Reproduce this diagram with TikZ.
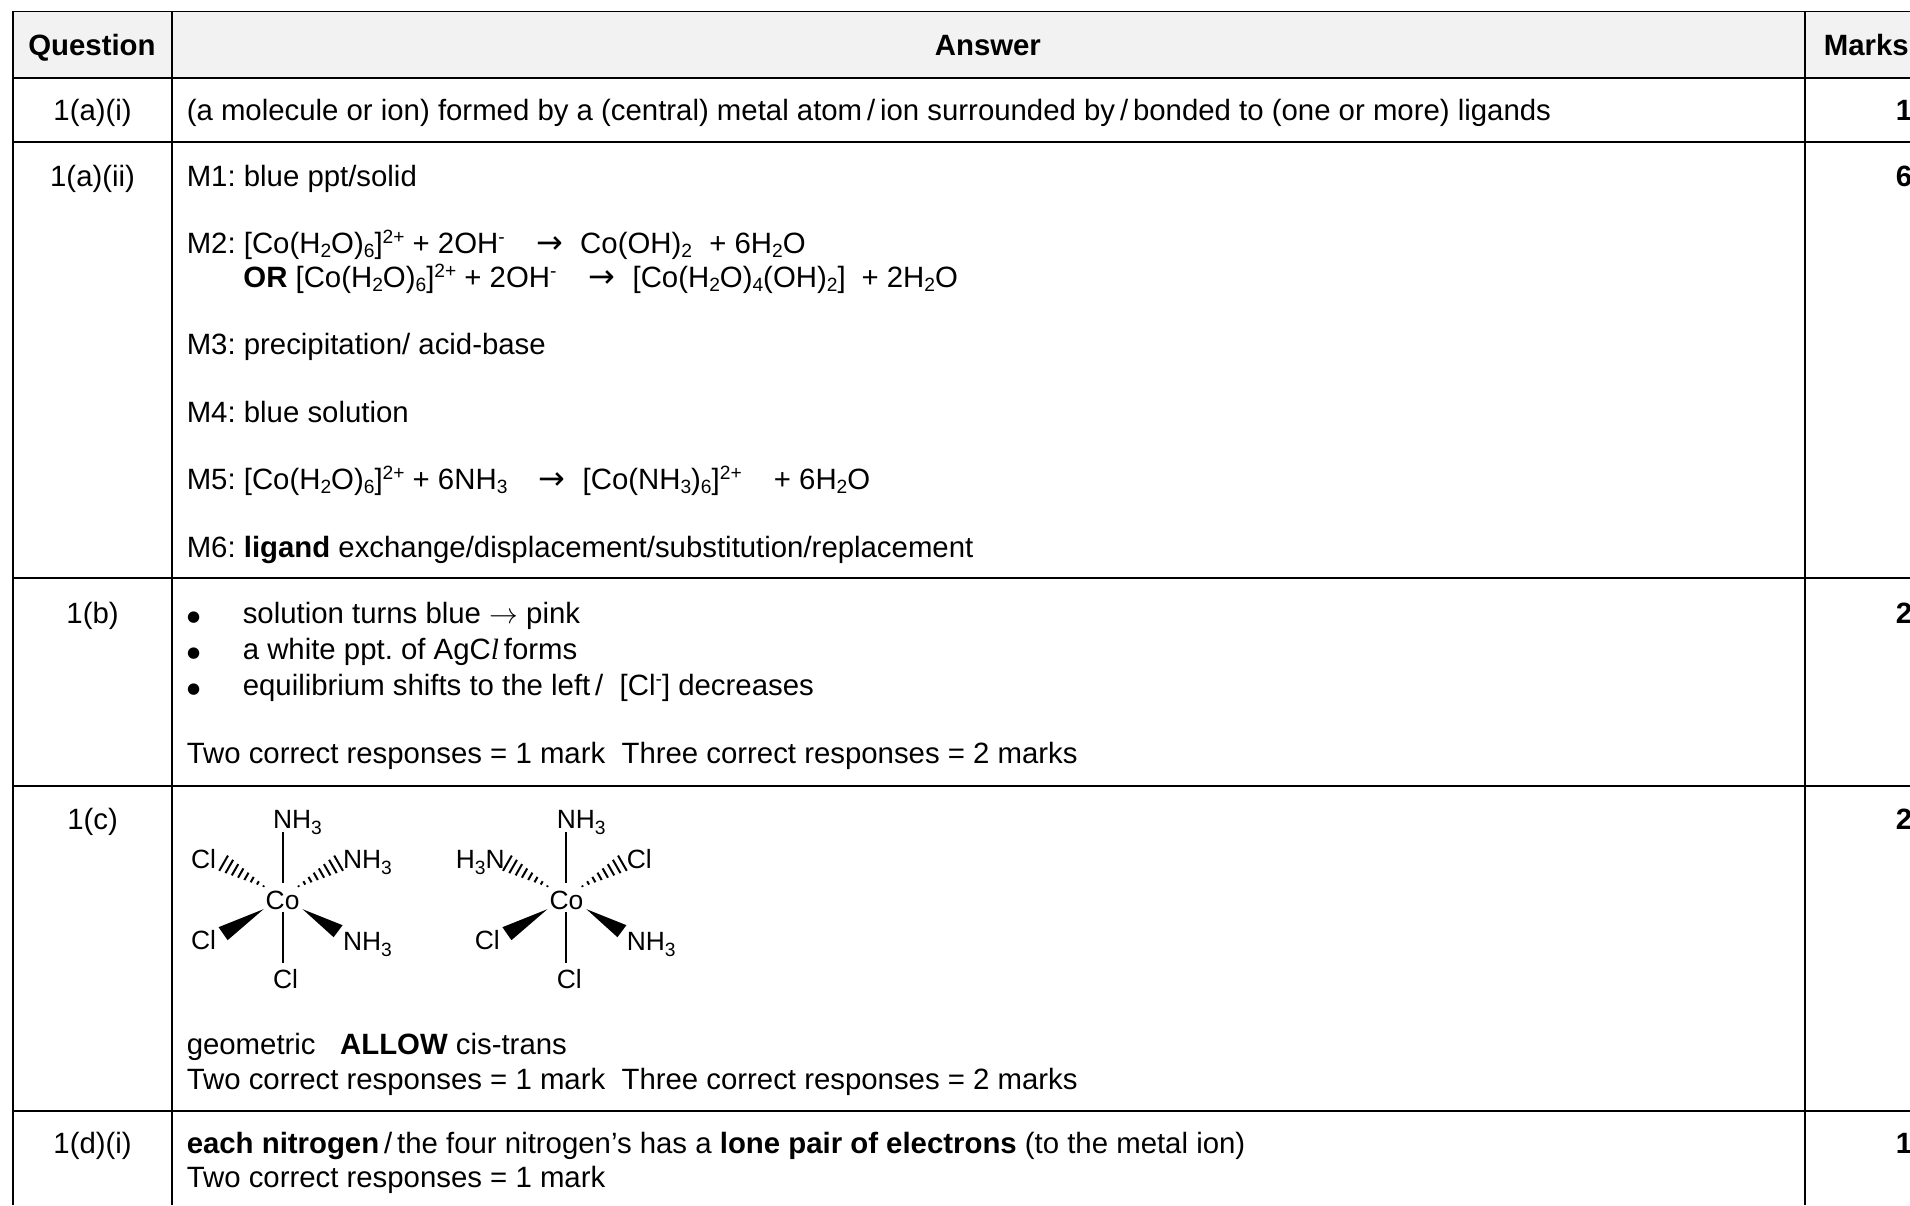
\documentclass[tikz,border=0pt]{standalone}
\usepackage{fontspec}
\setmainfont{Liberation Sans}
\newfontfamily\serifit{Liberation Serif}
\newfontfamily\arrowfont{DejaVu Sans}
\frenchspacing
\newcommand\sbx[1]{\raisebox{-0.13em}{\fontsize{9.6}{10}\selectfont #1}}
\newcommand\spx[1]{\raisebox{0.34em}{\fontsize{9.6}{10}\selectfont #1}}
\newcommand\sbs[1]{\raisebox{-0.22em}{\fontsize{9.6}{10}\selectfont #1}}
\newcommand\Tx[4]{\node[txt] (#1) at (#2,#3) {#4};}
\newcommand\Tc[4]{\node[txtc] (#1) at (#2,#3) {#4};}
\newcommand\Ar[3]{\node[arr] (#1) at (#2,#3) {→};}
\newcommand\Bu[3]{\node[bul] (#1) at (#2,#3) {●};}
\newcommand\hashbond[4]{%
  \foreach \t in {0,...,7}{%
    \pgfmathsetmacro\px{#1+\t/7*(#3-#1)}%
    \pgfmathsetmacro\py{#2+\t/7*(#4-#2)}%
    \pgfmathsetmacro\len{veclen(#3-#1,#4-#2)}%
    \pgfmathsetmacro\nx{-(#4-#2)/\len}%
    \pgfmathsetmacro\ny{(#3-#1)/\len}%
    \pgfmathsetmacro\hw{0.8+\t/7*8}%
    \draw[bond] (\px+\hw*\nx,\py+\hw*\ny) -- (\px-\hw*\nx,\py-\hw*\ny);
  }}
\newcommand\bondset{%
  \draw[bond] (0,-68) -- (0,-17);
  \draw[bond] (0,12) -- (0,63);
  \hashbond{-19}{-14}{-59}{-37}
  \hashbond{16}{-14}{56}{-37}
  \fill (-19,9) -- (-64,27) -- (-55,40) -- cycle;
  \fill (20,9) -- (60,25) -- (51,37) -- cycle;
}
\tikzset{
  txt/.style={anchor=base west,inner sep=0pt,font=\fontsize{14.68}{17}\selectfont},
  txtc/.style={anchor=base,inner sep=0pt,font=\fontsize{14.68}{17}\selectfont},
  arr/.style={anchor=base west,inner sep=0pt,font=\arrowfont\fontsize{16}{17}\selectfont},
  bul/.style={anchor=base,inner sep=0pt,font=\arrowfont\fontsize{7.5}{8}\selectfont},
  chem/.style={anchor=base west,inner sep=0pt,font=\fontsize{13.2}{15}\selectfont},
  rule/.style={line width=1.1pt,black},
  bond/.style={line width=1pt,black}
}
\begin{document}
\begin{tikzpicture}[x=0.60906pt,y=-0.60906pt]
\useasboundingbox (0,0) rectangle (1568,989.34);
\fill[white] (0,0) rectangle (1568,989.34);
\fill[black!5] (10.5,9.3) rectangle (1568,64);
% rules
\coordinate (tl) at (10.5,9.3); \coordinate (tr) at (1568,9.3);
\draw[line width=0.8pt] (tl) -- (tr);
\foreach \yy in {64.03,116.57,474.5,645.3,912.1}{\draw[rule] (10.5,\yy) -- (1568,\yy);}
\foreach \xx in {10.5,141.2,1482}{\draw[rule] (\xx,9.3) -- (\xx,989.34);}
% header
\Tc{hq}{75.5}{45.5}{\textbf{Question}}
\Tc{ha}{811}{45.5}{\textbf{Answer}}
\Tx{hm}{1497}{45.5}{\textbf{Marks}}
% question labels
\Tc{q1}{76}{99}{1(a)(i)}
\Tc{q2}{76}{153}{1(a)(ii)}
\Tc{q3}{76}{512}{1(b)}
\Tc{q4}{76}{681}{1(c)}
\Tc{q5}{76}{947}{1(d)(i)}
% marks
\Tx{m1}{1556}{99}{\textbf{1}}
\Tx{m2}{1556}{153}{\textbf{6}}
\Tx{m3}{1556}{512}{\textbf{2}}
\Tx{m4}{1556}{681}{\textbf{2}}
\Tx{m5}{1556}{947}{\textbf{1}}
% answers
\Tx{a1}{153}{99}{(a molecule or ion) formed by a (central) metal atom\,/\,ion surrounded by\,/\,bonded to (one or more) ligands}
\Tx{a2}{153}{153}{M1: blue ppt/solid}
\Tx{a3}{153}{208}{M2: [Co(H\sbx{2}O)\sbx{6}]\spx{2+} + 2OH\spx{-}}
\Ar{a3b}{440}{208}{}
\Tx{a3c}{476}{208}{Co(OH)\sbx{2}}
\Tx{a3d}{582}{208}{+ 6H\sbx{2}O}
\Tx{a4}{199.5}{236}{\textbf{OR} [Co(H\sbx{2}O)\sbx{6}]\spx{2+} + 2OH\spx{-}}
\Ar{a4b}{483}{236}{}
\Tx{a4c}{519}{236}{[Co(H\sbx{2}O)\sbx{4}(OH)\sbx{2}]}
\Tx{a4d}{707}{236}{+ 2H\sbx{2}O}
\Tx{a5}{153}{291}{M3: precipitation/ acid-base}
\Tx{a6}{153}{347}{M4: blue solution}
\Tx{a7}{153}{402}{M5: [Co(H\sbx{2}O)\sbx{6}]\spx{2+} + 6NH\sbx{3}}
\Ar{a7b}{442}{402}{}
\Tx{a7c}{478}{402}{[Co(NH\sbx{3})\sbx{6}]\spx{2+}}
\Tx{a7d}{635}{402}{+ 6H\sbx{2}O}
\Tx{a8}{153}{458}{M6: \textbf{ligand} exchange/displacement/substitution/replacement}
\Bu{b1d}{159}{510}{}
\Bu{b2d}{159}{539.5}{}
\Bu{b3d}{159}{569}{}
\Tx{b1}{199}{512}{solution turns blue $\rightarrow$ pink}
\Tx{b2}{199}{541.5}{a white ppt. of AgC{\serifit\itshape l}\,forms}
\Tx{b3}{199}{571}{equilibrium shifts to the left\,/\ \ [Cl\spx{-}] decreases}
\Tx{b4}{153}{627}{Two correct responses = 1 mark\ \ Three correct responses = 2 marks}
\Tx{c1}{153}{866}{geometric\ \ \ \textbf{ALLOW} cis-trans}
\Tx{c2}{153}{894}{Two correct responses = 1 mark\ \ Three correct responses = 2 marks}
\Tx{d1}{153}{947}{\textbf{each nitrogen}\,/\,the four nitrogen’s has a \textbf{lone pair of electrons} (to the metal ion)}
\Tx{d2}{153}{975}{Two correct responses = 1 mark}
% structures
\begin{scope}[shift={(232,739)},x=0.5pt,y=-0.5pt]
  \bondset
  \node[chem] (sa0) at (0,0) [anchor=center] {Co};
  \node[chem] (sa1) at (-10,-72) {NH\sbs{3}};
  \node[chem] (sa2) at (-92,-32) {Cl};
  \node[chem] (sa3) at (60,-32) {NH\sbs{3}};
  \node[chem] (sa4) at (-92,49) {Cl};
  \node[chem] (sa5) at (60,50) {NH\sbs{3}};
  \node[chem] (sa6) at (-10,88) {Cl};
\end{scope}
\begin{scope}[shift={(465,739)},x=0.5pt,y=-0.5pt]
  \bondset
  \node[chem] (sb0) at (0,0) [anchor=center] {Co};
  \node[chem] (sb1) at (-10,-72) {NH\sbs{3}};
  \node[chem] (sb2) at (-111,-32) {H\sbs{3}N};
  \node[chem] (sb3) at (60,-32) {Cl};
  \node[chem] (sb4) at (-92,49) {Cl};
  \node[chem] (sb5) at (60,50) {NH\sbs{3}};
  \node[chem] (sb6) at (-10,88) {Cl};
\end{scope}
\end{tikzpicture}
\end{document}
